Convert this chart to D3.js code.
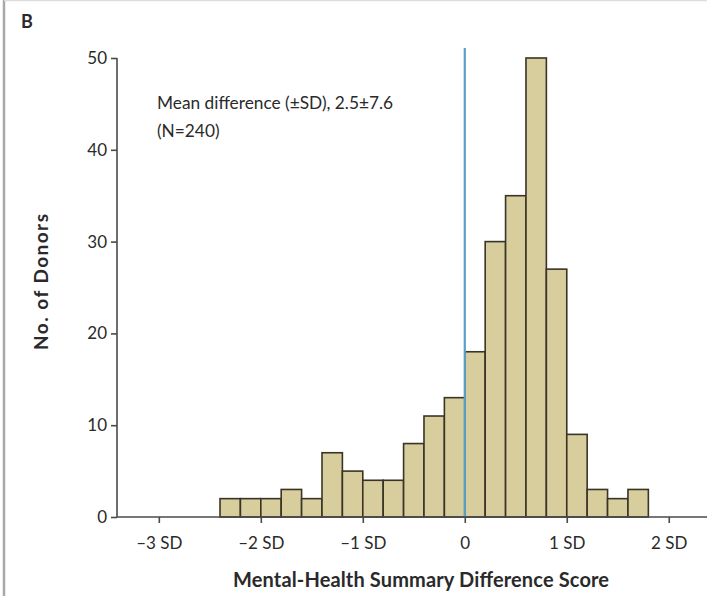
<!DOCTYPE html>
<html>
<head>
<meta charset="utf-8">
<script src="https://cdn.jsdelivr.net/npm/d3@7"></script>
<style>
  html, body { margin: 0; padding: 0; background: #fff; }
  svg { display: block; }
  text { font-family: Lato, "Open Sans", sans-serif; fill: #2a2a2a; }
</style>
</head>
<body>
<svg id="chart" width="707" height="596"></svg>
<script>
// Histogram bins in SD units (lower edge) and donor counts per bin
const binStarts = [-2.4, -2.2, -2.0, -1.8, -1.6, -1.4, -1.2, -1.0, -0.8, -0.6, -0.4,
                   -0.2, 0.0, 0.2, 0.4, 0.6, 0.8, 1.0, 1.2, 1.4, 1.6];
const counts    = [2, 2, 2, 3, 2, 7, 5, 4, 4, 8, 11,
                   13, 18, 30, 35, 50, 27, 9, 3, 2, 3];
const binWidth = 0.2;

const xTicks = [-3, -2, -1, 0, 1, 2];
const xTickLabels = ["–3 SD", "–2 SD", "–1 SD", "0", "1 SD", "2 SD"];
const yTicks = [0, 10, 20, 30, 40, 50];
const annotation = ["Mean difference (±SD), 2.5±7.6", "(N=240)"];

const svg = d3.select("#chart");

// Panel frame (left and top rules)
svg.append("line").attr("x1", 4).attr("x2", 4).attr("y1", 0).attr("y2", 596)
  .attr("stroke", "#a9a9a9").attr("stroke-width", 2.5);
svg.append("line").attr("x1", 4).attr("x2", 707).attr("y1", 0.5).attr("y2", 0.5)
  .attr("stroke", "#dcdcdc").attr("stroke-width", 1.5);

const plotLeft = 117, plotRight = 707, plotTop = 58, plotBottom = 517;

const x = d3.scaleLinear().domain([-3.41, 2.375]).range([plotLeft, plotRight]);
const y = d3.scaleLinear().domain([0, 50]).range([plotBottom, plotTop]);

// Bars
svg.append("g").selectAll("rect")
  .data(binStarts.map((s, i) => ({ s, c: counts[i] })))
  .join("rect")
  .attr("x", d => x(d.s))
  .attr("width", d => x(d.s + binWidth) - x(d.s))
  .attr("y", d => y(d.c))
  .attr("height", d => y(0) - y(d.c))
  .attr("fill", "#d7cd9d")
  .attr("stroke", "#3a3426")
  .attr("stroke-width", 1.6);

// Reference line at zero
svg.append("line")
  .attr("x1", x(0)).attr("x2", x(0))
  .attr("y1", 48).attr("y2", y(0))
  .attr("stroke", "#5a9fcb").attr("stroke-width", 2.2);

// Y axis
const yAxis = d3.axisLeft(y).tickValues(yTicks).tickSize(6).tickPadding(4);
const gy = svg.append("g").attr("transform", `translate(${plotLeft},0)`).call(yAxis);
gy.select(".domain").attr("d", `M0,${plotTop}V${plotBottom}`).attr("stroke", "#4a4a4a").attr("stroke-width", 1.6);
gy.selectAll(".tick line").attr("stroke", "#4a4a4a").attr("stroke-width", 1.6);
gy.selectAll(".tick text").style("font-size", "17px").attr("fill", "#2a2a2a")
  .style("font-family", "Lato, sans-serif");

// X axis
const xAxis = d3.axisBottom(x).tickValues(xTicks)
  .tickFormat((d, i) => xTickLabels[i]).tickSize(6).tickPadding(14);
const gx = svg.append("g").attr("transform", `translate(0,${plotBottom})`).call(xAxis);
gx.select(".domain").attr("d", `M${plotLeft},0H${plotRight}`).attr("stroke", "#4a4a4a").attr("stroke-width", 1.6);
gx.selectAll(".tick line").attr("stroke", "#4a4a4a").attr("stroke-width", 1.6);
gx.selectAll(".tick text").style("font-size", "17px").attr("fill", "#2a2a2a")
  .style("font-family", "Lato, sans-serif");

// Panel letter
svg.append("text").attr("x", 21).attr("y", 28)
  .style("font-size", "18px").style("font-weight", "bold").text("B");

// Axis titles
svg.append("text")
  .attr("transform", `translate(48,${282}) rotate(-90)`)
  .attr("text-anchor", "middle")
  .attr("textLength", 136).attr("lengthAdjust", "spacing")
  .style("font-size", "19px").style("font-weight", "bold")
  .text("No. of Donors");

svg.append("text")
  .attr("x", 421).attr("y", 587)
  .attr("text-anchor", "middle")
  .attr("textLength", 376).attr("lengthAdjust", "spacing")
  .style("font-size", "20px").style("font-weight", "bold")
  .text("Mental-Health Summary Difference Score");

// Summary annotation
svg.append("g").selectAll("text")
  .data(annotation)
  .join("text")
  .attr("x", 157)
  .attr("y", (d, i) => 109 + i * 28)
  .style("font-size", "17.3px")
  .text(d => d);
</script>
</body>
</html>
